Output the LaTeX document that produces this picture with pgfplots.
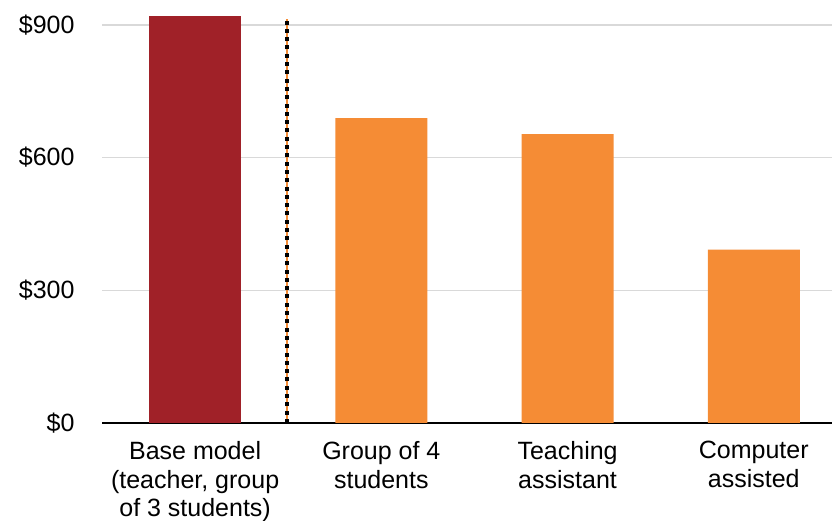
\documentclass[border=0pt]{standalone}
\usepackage{fontspec}
\setmainfont{Liberation Sans}
\usepackage{pgfplots}
\pgfplotsset{compat=1.18}
\definecolor{basered}{RGB}{160,33,40}
\definecolor{barorange}{RGB}{245,140,53}
\definecolor{gridgray}{RGB}{217,217,217}
\begin{document}
\begin{tikzpicture}
\path[use as bounding box] (0,0) rectangle (832pt,521pt);
\begin{axis}[
  at={(102pt,98pt)}, anchor=south west,
  scale only axis, width=730pt, height=423pt,
  xmin=-0.5, xmax=3.42, ymin=0, ymax=956,
  axis x line*=bottom, axis y line*=left,
  x axis line style={black, line width=1.5pt, -},
  y axis line style={draw=none},
  xtick={0,1,2,3},
  xticklabels={{Base model\\(teacher, group\\of 3 students)},{Group of 4\\students},{Teaching\\assistant},{Computer\\assisted}},
  xticklabel style={align=center, font=\fontsize{25}{28.5}\selectfont, yshift=-15pt},
  major tick length=0pt,
  ytick={0,300,600,900},
  yticklabel={\$\pgfmathprintnumber{\tick}},
  yticklabel style={font=\fontsize{25}{28}\selectfont, xshift=-24pt},
  /pgf/number format/assume math mode=true,
  ymajorgrids, grid style={gridgray, line width=1.5pt},
  clip=false,
]
\addplot[ybar, bar width=92pt, bar shift=0pt, fill=basered, draw=none] coordinates {(0,920)};
\addplot[ybar, bar width=92pt, bar shift=0pt, fill=barorange, draw=none] coordinates {(1,689) (2,653) (3,392)};
\addplot[barorange, line width=2pt] coordinates {(0.495,0) (0.495,913)};
\addplot[black, line width=4pt, dash pattern=on 4pt off 4.3pt] coordinates {(0.495,0) (0.495,913)};
\end{axis}
\end{tikzpicture}
\end{document}
